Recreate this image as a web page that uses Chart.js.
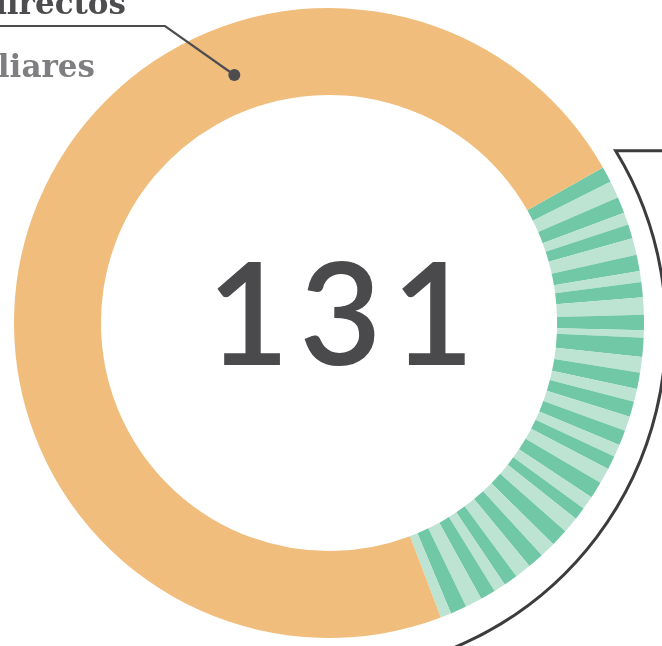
<!DOCTYPE html>
<html>
<head>
<meta charset="utf-8">
<script src="https://cdn.jsdelivr.net/npm/chart.js@4.4.1/dist/chart.umd.min.js"></script>
<style>
  html, body { margin: 0; padding: 0; background: #ffffff; overflow: hidden; }
  #wrap { position: relative; width: 662px; height: 646px; overflow: hidden; }
  #chart { position: absolute; left: 0; top: 0; }
  .lbl { position: absolute; font-family: "DejaVu Serif", serif; font-weight: bold;
         font-size: 31px; line-height: 31px; white-space: nowrap; text-align: right; }
  #center { position: absolute; left: 0; width: 691px; top: 239px; text-align: center;
            font-family: "Lato", sans-serif; font-weight: 600; font-size: 142px; line-height: 142px;
            color: #4a4a4c; letter-spacing: 10px; white-space: nowrap; }
</style>
</head>
<body>
<div id="wrap">
  <canvas id="chart" width="662" height="646"></canvas>
  <div id="center"></div>
  <div class="lbl" id="lblA" style="right:536px; top:-12px; color:#4d4d4f;"></div>
  <div class="lbl" id="lblB" style="right:567px; top:51px; color:#7f7f81;"></div>
</div>
<script>
// ---- data ----
const centerLabel = '131';
const leaderLabels = ['directos', 'liares'];
const mainCategory = 'directos / familiares';
const mainValue = 261.2;            // orange share (degrees of the ring)
const stripeValues = [               // green stripes, alternating dark / light (degrees of the ring)
  2.95, 3.15, 3.0, 2.3, 2.6, 3.1, 3.0, 2.0, 2.8, 3.2,
  2.8, 1.4, 3.5, 2.9, 3.0, 2.4, 2.8, 2.7, 2.8, 2.3,
  2.5, 2.9, 3.1, 2.5, 2.3, 3.0, 3.2, 2.9, 3.0, 3.0,
  2.6, 2.2, 2.8, 3.1, 3.0, 2.0
];
const stripeCategories = stripeValues.map((v, i) => 'Indirecto ' + (i + 1));

// ---- styles ----
const ORANGE = '#f0bd7c';
const GREEN_DARK = '#71c8a7';
const GREEN_LIGHT = '#bde3d2';
const INK = '#3c3c3e';

document.getElementById('center').textContent = centerLabel;
document.getElementById('lblA').textContent = leaderLabels[0];
document.getElementById('lblB').textContent = leaderLabels[1];

const labels = stripeCategories.concat([mainCategory]);
const values = stripeValues.concat([mainValue]);
const colors = stripeValues.map((v, i) => (i % 2 === 0 ? GREEN_DARK : GREEN_LIGHT)).concat([ORANGE]);

const decorations = {
  id: 'decorations',
  afterDatasetsDraw(chart) {
    const ctx = chart.ctx;
    const meta = chart.getDatasetMeta(0);
    const first = meta.data[0];
    const last = meta.data[stripeValues.length - 1];
    const cx = first.x, cy = first.y;
    const R = first.outerRadius, r = first.innerRadius;

    ctx.save();
    // bracket arc spanning the green stripes
    const bx = cx - 7, by = cy + 7, bR = R + 29;
    const a0 = first.startAngle - 1.8 * Math.PI / 180;
    const a1 = last.endAngle + 5 * Math.PI / 180;
    ctx.strokeStyle = INK;
    ctx.lineWidth = 3;
    ctx.lineCap = 'butt';
    ctx.lineJoin = 'miter';
    ctx.beginPath();
    ctx.moveTo(chart.width + 5, by + bR * Math.sin(a0));
    ctx.lineTo(bx + bR * Math.cos(a0), by + bR * Math.sin(a0));
    ctx.arc(bx, by, bR, a0, a1, false);
    ctx.stroke();

    // leader line to the orange segment
    const ang = (339.1 - 90) * Math.PI / 180;
    const dr = r + 0.43 * (R - r);
    const dx = cx + dr * Math.cos(ang), dy = cy + dr * Math.sin(ang);
    ctx.strokeStyle = '#4d4d4f';
    ctx.lineWidth = 2.2;
    ctx.beginPath();
    ctx.moveTo(-5, 26);
    ctx.lineTo(165, 26);
    ctx.lineTo(dx, dy);
    ctx.stroke();
    ctx.fillStyle = '#4d4d4f';
    ctx.beginPath();
    ctx.arc(dx, dy, 6, 0, Math.PI * 2);
    ctx.fill();
    ctx.restore();
  }
};

new Chart(document.getElementById('chart'), {
  type: 'doughnut',
  data: {
    labels: labels,
    datasets: [{
      data: values,
      backgroundColor: colors,
      borderWidth: 0,
      hoverOffset: 0
    }]
  },
  options: {
    responsive: false,
    animation: false,
    devicePixelRatio: 1,
    rotation: 60.4,
    cutout: '72.4%',
    layout: { padding: { left: 14, right: 18, top: 8, bottom: 8 } },
    plugins: {
      legend: { display: false },
      tooltip: { enabled: false }
    }
  },
  plugins: [decorations]
});
</script>
</body>
</html>
